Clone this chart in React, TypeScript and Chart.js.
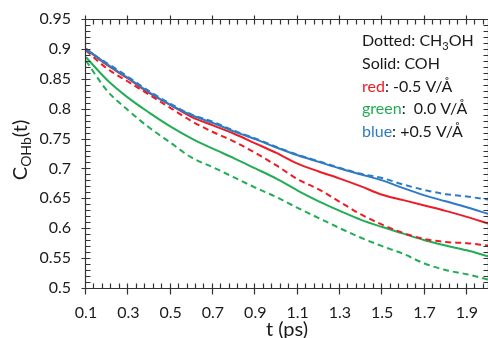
import React, { useEffect, useRef } from 'react';
import { Chart, registerables } from 'chart.js';

Chart.register(...registerables);

// ---- data ----
const times = [0.1, 0.2, 0.3, 0.4, 0.5, 0.6, 0.7, 0.8, 0.9, 1.0, 1.1, 1.2, 1.3, 1.4, 1.5, 1.6, 1.7, 1.8, 1.9, 2.0];

const blueSolid = [0.900, 0.874, 0.851, 0.827, 0.806, 0.789, 0.776, 0.762, 0.749, 0.735, 0.722, 0.711, 0.700, 0.690, 0.680, 0.667, 0.655, 0.645, 0.635, 0.624];
const blueDotted = [0.898, 0.876, 0.853, 0.829, 0.808, 0.790, 0.778, 0.763, 0.750, 0.736, 0.723, 0.712, 0.701, 0.691, 0.684, 0.673, 0.664, 0.657, 0.653, 0.648];
const redSolid = [0.900, 0.873, 0.850, 0.826, 0.806, 0.786, 0.772, 0.758, 0.742, 0.726, 0.708, 0.695, 0.683, 0.670, 0.656, 0.647, 0.638, 0.629, 0.619, 0.608];
const redDotted = [0.897, 0.867, 0.845, 0.823, 0.801, 0.779, 0.761, 0.745, 0.726, 0.705, 0.682, 0.665, 0.644, 0.623, 0.606, 0.592, 0.582, 0.577, 0.575, 0.571];
const greenSolid = [0.886, 0.848, 0.818, 0.793, 0.770, 0.750, 0.733, 0.717, 0.700, 0.683, 0.663, 0.645, 0.629, 0.614, 0.602, 0.591, 0.580, 0.571, 0.563, 0.553];
const greenDotted = [0.880, 0.830, 0.797, 0.768, 0.743, 0.718, 0.702, 0.685, 0.668, 0.652, 0.634, 0.617, 0.600, 0.584, 0.570, 0.557, 0.541, 0.530, 0.523, 0.514];

const xTickValues = [0.1, 0.3, 0.5, 0.7, 0.9, 1.1, 1.3, 1.5, 1.7, 1.9];
const xTickLabels = ['0.1', '0.3', '0.5', '0.7', '0.9', '1.1', '1.3', '1.5', '1.7', '1.9'];
const yTickValues = [0.5, 0.55, 0.6, 0.65, 0.7, 0.75, 0.8, 0.85, 0.9, 0.95];
const yTickLabels = ['0.5', '0.55', '0.6', '0.65', '0.7', '0.75', '0.8', '0.85', '0.9', '0.95'];

const xTitle = 't (ps)';
const yTitleMain = 'C';
const yTitleSub = 'OHb';
const yTitleEnd = '(t)';

const RED = '#ed1c24';
const GREEN = '#21ad55';
const BLUE = '#2e7bc4';
const TEXT = '#1a1a1a';
const FONT = 'Lato, "Open Sans", "DejaVu Sans", sans-serif';

const legendRows: { parts: { text: string; color: string; sub?: boolean }[] }[] = [
  { parts: [{ text: 'Dotted: CH', color: TEXT }, { text: '3', color: TEXT, sub: true }, { text: 'OH', color: TEXT }] },
  { parts: [{ text: 'Solid: COH', color: TEXT }] },
  { parts: [{ text: 'red', color: RED }, { text: ': -0.5 V/Å', color: TEXT }] },
  { parts: [{ text: 'green', color: GREEN }, { text: ':  0.0 V/Å', color: TEXT }] },
  { parts: [{ text: 'blue', color: BLUE }, { text: ': +0.5 V/Å', color: TEXT }] },
];

const framePlugin = {
  id: 'frame',
  afterDraw(chart: any) {
    const { ctx, chartArea, scales } = chart;
    const { left, right, top, bottom } = chartArea;
    const x = scales.x;
    const y = scales.y;
    ctx.save();
    ctx.strokeStyle = '#333';
    ctx.lineWidth = 1.2;
    const L = left - 0.5;
    const R = right + 0.5;
    const T = top + 0.5;
    const B = bottom + 0.5;
    ctx.beginPath();
    ctx.moveTo(L, T); ctx.lineTo(R, T);
    ctx.moveTo(L, B); ctx.lineTo(R, B);
    ctx.moveTo(L, T - 4); ctx.lineTo(L, B);
    ctx.moveTo(R, T); ctx.lineTo(R, B);
    xTickValues.forEach((v) => {
      const px = Math.round(x.getPixelForValue(v)) - 0.5;
      ctx.moveTo(px, B - 5); ctx.lineTo(px, B + 6);
      ctx.moveTo(px, T - 4); ctx.lineTo(px, T + 5);
    });
    for (let i = 0; i <= 47; i++) {
      if (i % 5 === 0) continue;
      const v = 0.1 + i * 0.04;
      const px = Math.round(x.getPixelForValue(v)) - 0.5;
      ctx.moveTo(px, B - 5); ctx.lineTo(px, B);
      ctx.moveTo(px, T); ctx.lineTo(px, T + 5);
    }
    yTickValues.forEach((v) => {
      const py = Math.round(y.getPixelForValue(v)) + 0.5;
      ctx.moveTo(L - 4, py); ctx.lineTo(L + 5, py);
      ctx.moveTo(R - 5, py); ctx.lineTo(R + 4, py);
    });
    for (let i = 0; i <= 45; i++) {
      if (i % 5 === 0) continue;
      const v = 0.5 + i * 0.01;
      const py = Math.round(y.getPixelForValue(v)) + 0.5;
      ctx.moveTo(L, py); ctx.lineTo(L + 5, py);
      ctx.moveTo(R - 5, py); ctx.lineTo(R, py);
    }
    ctx.stroke();

    // y title with subscript
    const mainFont = `20px ${FONT}`;
    const subFont = `14px ${FONT}`;
    ctx.font = mainFont;
    const wC = ctx.measureText(yTitleMain).width;
    const wE = ctx.measureText(yTitleEnd).width;
    ctx.font = subFont;
    const wS = ctx.measureText(yTitleSub).width;
    const total = wC + wS + wE;
    ctx.translate(27, 150);
    ctx.rotate(-Math.PI / 2);
    ctx.fillStyle = TEXT;
    ctx.textBaseline = 'alphabetic';
    ctx.textAlign = 'left';
    let cx = -total / 2;
    ctx.font = mainFont;
    ctx.fillText(yTitleMain, cx, 0);
    cx += wC;
    ctx.font = subFont;
    ctx.fillText(yTitleSub, cx, 4);
    cx += wS;
    ctx.font = mainFont;
    ctx.fillText(yTitleEnd, cx, 0);
    ctx.restore();

    // legend text
    ctx.save();
    ctx.textBaseline = 'alphabetic';
    ctx.textAlign = 'left';
    const lx = 362;
    const ly0 = 46;
    const step = 22.8;
    legendRows.forEach((row, r) => {
      let px = lx;
      const py = ly0 + r * step;
      row.parts.forEach((p) => {
        ctx.font = p.sub ? `11px ${FONT}` : `16px ${FONT}`;
        ctx.fillStyle = p.color;
        ctx.fillText(p.text, px, p.sub ? py + 4 : py);
        px += ctx.measureText(p.text).width;
      });
    });
    ctx.restore();
  },
};

export default function App() {
  const ref = useRef<HTMLCanvasElement>(null);
  useEffect(() => {
    const canvas = ref.current!;
    const mk = (label: string, vals: number[], color: string, dashed: boolean) => ({
      label,
      data: times.map((t, i) => ({ x: t, y: vals[i] })),
      borderColor: color,
      backgroundColor: color,
      borderWidth: 2,
      borderDash: dashed ? [6, 4] : [],
      pointRadius: 0,
      fill: false,
      cubicInterpolationMode: 'monotone' as const,
    });
    const chart = new Chart(canvas, {
      type: 'line',
      data: {
        datasets: [
          mk('blue dotted', blueDotted, BLUE, true),
          mk('blue solid', blueSolid, BLUE, false),
          mk('red solid', redSolid, RED, false),
          mk('red dotted', redDotted, RED, true),
          mk('green solid', greenSolid, GREEN, false),
          mk('green dotted', greenDotted, GREEN, true),
        ],
      },
      options: {
        responsive: false,
        animation: false,
        devicePixelRatio: 1,
        layout: { padding: { top: 19, left: 0, right: 0, bottom: 0 } },
        plugins: { legend: { display: false }, tooltip: { enabled: false } },
        scales: {
          x: {
            type: 'linear',
            min: 0.1,
            max: 2.0,
            grid: { display: false, drawTicks: false },
            border: { display: false },
            afterBuildTicks: (s: any) => { s.ticks = xTickValues.map((v) => ({ value: v })); },
            afterFit: (s: any) => { s.height = 50; s.paddingLeft = 0; s.paddingRight = 0; },
            ticks: {
              callback: (_v: any, i: number) => xTickLabels[i],
              font: { family: FONT, size: 16 },
              color: TEXT,
              padding: 15,
              maxRotation: 0,
              autoSkip: false,
            },
            title: { display: true, text: xTitle, font: { family: FONT, size: 20 }, color: TEXT, padding: { top: 0, bottom: -4 } },
          },
          y: {
            type: 'linear',
            min: 0.5,
            max: 0.95,
            grid: { display: false, drawTicks: false },
            border: { display: false },
            afterBuildTicks: (s: any) => { s.ticks = yTickValues.map((v) => ({ value: v })); },
            afterFit: (s: any) => { s.width = 86; s.paddingTop = 0; s.paddingBottom = 0; },
            ticks: {
              callback: (_v: any, i: number) => yTickLabels[i],
              font: { family: FONT, size: 16 },
              color: TEXT,
              padding: 15,
              autoSkip: false,
            },
          },
        },
      },
      plugins: [framePlugin],
    } as any);
    return () => chart.destroy();
  }, []);
  return (
    <div style={{ position: 'fixed', left: 0, top: 0, width: 488, height: 338, background: '#fff' }}>
      <canvas ref={ref} width={488} height={338} style={{ display: 'block', width: 488, height: 338 }} />
    </div>
  );
}
